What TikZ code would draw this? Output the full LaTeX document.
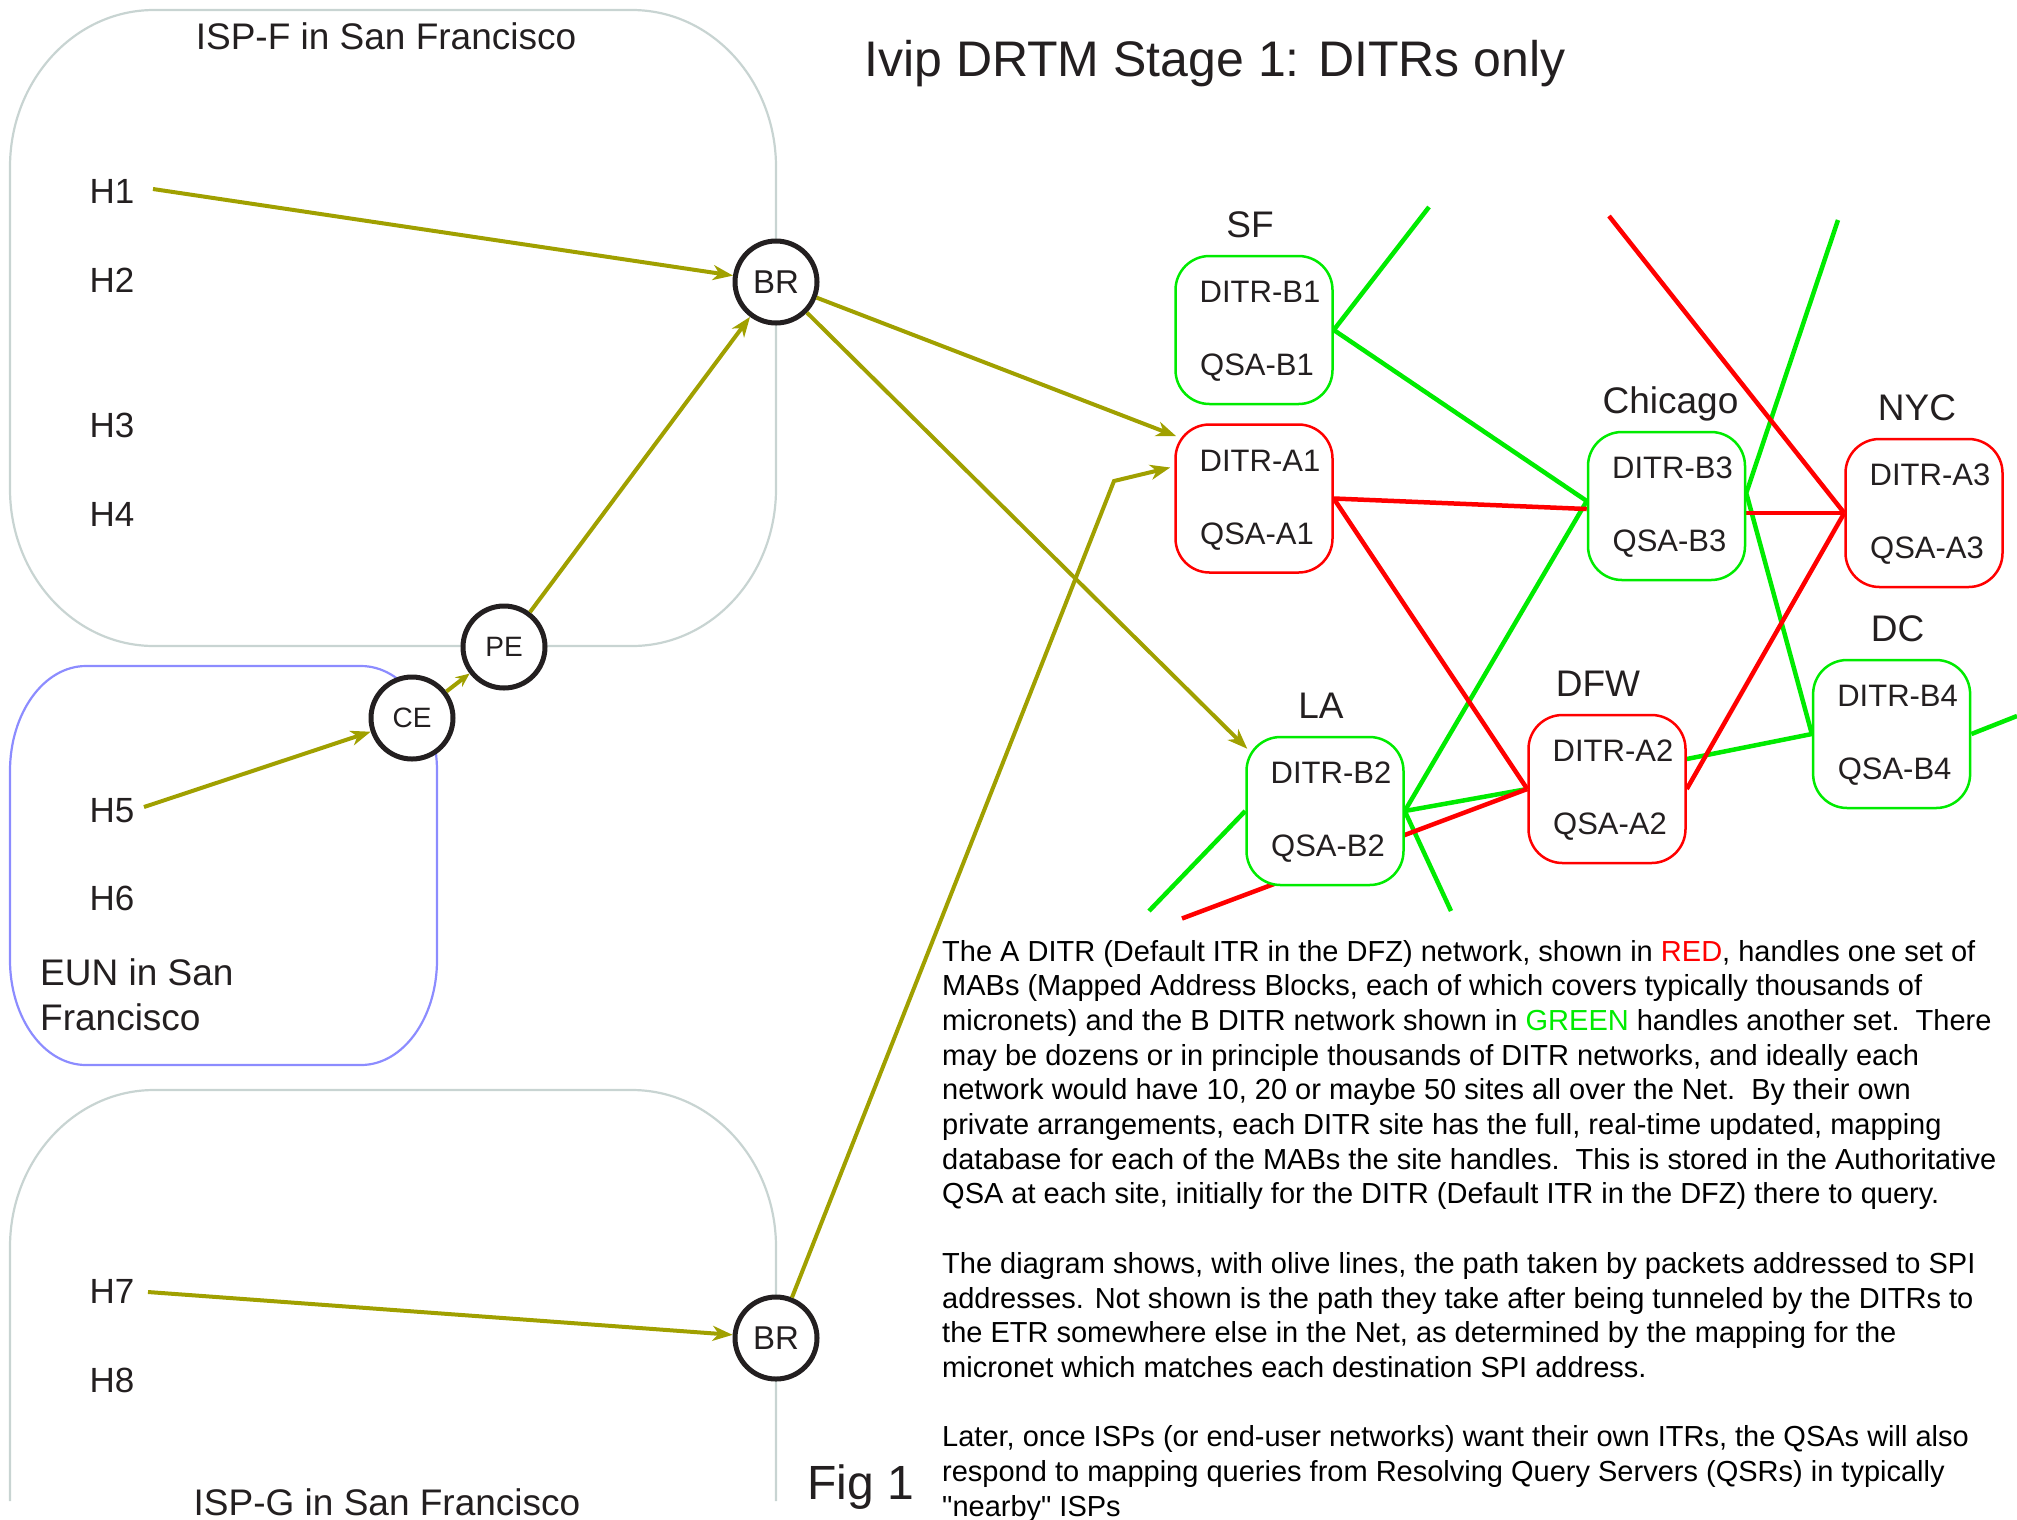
\documentclass[tikz,border=0pt]{standalone}
\usepackage{fontspec}
\setmainfont{Liberation Sans}
\newfontfamily\helv{Liberation Sans}
\usetikzlibrary{calc,arrows.meta,backgrounds}
\definecolor{olivec}{RGB}{160,160,0}
\definecolor{ispc}{RGB}{200,212,210}
\definecolor{eunc}{RGB}{140,140,255}
\definecolor{gnc}{RGB}{0,235,0}
\definecolor{rdc}{RGB}{255,0,0}
\definecolor{inkc}{RGB}{35,31,32}
\newcommand{\mksite}[7]{%
  \node[#2] (#1) at (#3,#4) {};
  \node[intext] (#1d) at ($(#1)+(6,-38)$) {DITR-#6};
  \node[intext] (#1q) at ($(#1)+(3,38)$) {QSA-#6};
  \node[lbl] (#1l) at ($(#1.north)+(#7,-17)$) {#5};
}
\begin{document}
\begin{tikzpicture}[x=1pt,y=-1pt,
  lbl/.style={font=\fontsize{37}{44}\selectfont, anchor=base, inner sep=0pt, text=inkc},
  hlab/.style={font=\fontsize{35}{42}\selectfont, anchor=base, inner sep=12pt, text=inkc},
  router/.style={circle, draw=inkc, line width=5pt, fill=white, minimum size=82pt, inner sep=0pt, text=inkc},
  arr/.style={draw=olivec, line width=4pt, -{Stealth[length=20pt,width=15pt,inset=6pt]}},
  site/.style={rounded corners=34pt, minimum width=157pt, minimum height=148pt, line width=2.5pt, fill=white},
  gsite/.style={site, draw=gnc},
  rsite/.style={site, draw=rdc},
  intext/.style={font=\fontsize{31}{37}\selectfont, inner sep=0pt, text=inkc},
  gline/.style={draw=gnc, line width=4.5pt},
  rline/.style={draw=rdc, line width=4.5pt},
  isp/.style={draw=ispc, line width=2.2pt},
  eun/.style={draw=eunc, line width=2.2pt},
  para/.style={font=\fontsize{29}{34.7}\selectfont, align=left, anchor=base west, inner sep=0pt, text=black},
]
\useasboundingbox (0,0) rectangle (2017,1519);

% containers
\draw[isp] (10,167) .. controls (10,80.3) and (74.5,10) .. (154,10) -- (632,10)
  .. controls (711.5,10) and (776,80.3) .. (776,167) -- (776,489)
  .. controls (776,575.7) and (711.5,646) .. (632,646) -- (154,646)
  .. controls (74.5,646) and (10,575.7) .. (10,489) -- cycle;
\draw[eun] (10,771) .. controls (10,713) and (44,666) .. (86,666) -- (361,666)
  .. controls (403,666) and (437,713) .. (437,771) -- (437,960)
  .. controls (437,1018) and (403,1065) .. (361,1065) -- (86,1065)
  .. controls (44,1065) and (10,1018) .. (10,960) -- cycle;
\draw[isp] (10,1501) -- (10,1247) .. controls (10,1160.3) and (74.5,1090) .. (154,1090)
  -- (632,1090) .. controls (711.5,1090) and (776,1160.3) .. (776,1247) -- (776,1501);

% labels
\node[lbl] (ispf) at (386,49) {ISP-F in San Francisco};
\node[lbl] (ispg) at (387,1515) {ISP-G in San Francisco};
\node[lbl, font=\fontsize{50}{60}\selectfont] (title) at (1215,76) {Ivip DRTM Stage 1: DITRs only};
\node[lbl, anchor=base west, font=\fontsize{48}{58}\selectfont] (fig) at (807,1499) {Fig 1};
\node[lbl, anchor=base west, align=left, font=\fontsize{37}{45}\selectfont] (eunl) at (40,1030) {EUN in San\\Francisco};

% hosts
\node[hlab] (H1) at (112,203) {H1};
\node[hlab] (H2) at (112,292) {H2};
\node[hlab] (H3) at (112,437) {H3};
\node[hlab] (H4) at (112,526) {H4};
\node[hlab] (H5) at (112,822) {H5};
\node[hlab] (H6) at (112,910) {H6};
\node[hlab] (H7) at (112,1303) {H7};
\node[hlab] (H8) at (112,1392) {H8};

% routers
\node[router, font=\fontsize{33}{40}\selectfont] (BR1) at (776,282) {BR};
\node[router, font=\fontsize{28}{34}\selectfont] (PE) at (504,647) {PE};
\node[router, font=\fontsize{28}{34}\selectfont] (CE) at (412,718) {CE};
\node[router, font=\fontsize{33}{40}\selectfont] (BR2) at (776,1338) {BR};

% DITR sites
\mksite{B1}{gsite}{1254}{330}{SF}{B1}{-4}
\mksite{A1}{rsite}{1254}{498.5}{}{A1}{0}
\mksite{B3}{gsite}{1666.5}{506}{Chicago}{B3}{4}
\mksite{A3}{rsite}{1924}{513}{NYC}{A3}{-7}
\mksite{B4}{gsite}{1891.6}{734}{DC}{B4}{6}
\mksite{A2}{rsite}{1607}{789}{DFW}{A2}{-9}
\mksite{B2}{gsite}{1325}{811}{LA}{B2}{-4}

% network links
\begin{scope}[on background layer]
  \coordinate (g1end) at (1429,207);
  \coordinate (g5end) at (1451,911);
  \coordinate (g6end) at (1149,911);
  \coordinate (g7end) at (1838,220);
  \coordinate (g9end) at (2017,716);
  \coordinate (r3end) at (1609,216);
  \coordinate (r6end) at (1182,918.5);
  \draw[gline] (B1.east) -- (g1end);
  \draw[gline] (B1.east) -- ($(B3.west)+(0,-5)$);
  \draw[gline] ($(B3.west)+(0,-5)$) -- (B2.east);
  \draw[gline] (B2.east) -- (A2.west);
  \draw[gline] (B2.east) -- (g5end);
  \draw[gline] (B2.west) -- (g6end);
  \draw[gline] (g7end) -- ($(B3.east)+(0,-13)$) -- (B4.west);
  \draw[gline] ($(A2.east)+(0,-30)$) -- (B4.west);
  \draw[gline] (B4.east) -- (g9end);
  \draw[rline] (A1.east) -- ($(B3.west)+(0,3)$);
  \draw[rline] ($(B3.east)+(0,7)$) -- (A3.west);
  \draw[rline] (A3.west) -- (r3end);
  \draw[rline] (A1.east) -- (A2.west);
  \draw[rline] (A2.east) -- (A3.west);
  \draw[rline] (A2.west) -- (r6end);
\end{scope}

% packet paths
\draw[arr] ($(H1.base)+(41,-14)$) -- (BR1);
\draw[arr] (PE) -- (BR1);
\draw[arr] ($(H5.base)+(32,-15)$) -- (CE);
\draw[arr, -{Stealth[length=14pt,width=12pt,inset=5pt]}] (CE) -- (PE);
\draw[arr] ($(H7.base)+(36,-11)$) -- (BR2);
\coordinate (a1top) at ($(A1.north west)+(2,13)$);
\coordinate (latop) at ($(B2.north west)+(2,13)$);
\draw[arr] (BR1) -- (a1top);
\draw[arr] (BR1) -- (latop);
\coordinate (kink) at (1114,481);
\coordinate (a1side) at ($(A1.west)+(-4,-31)$);
\draw[arr] (BR2) -- (kink) -- (a1side);

% explanatory text (base anchor = last line)
\node[para] (expl) at (942,1516.2) {The A DITR (Default ITR in the DFZ) network, shown in {\color{rdc}RED}, handles one set of\\
MABs (Mapped Address Blocks, each of which covers typically thousands of\\
micronets) and the B DITR network shown in {\color{gnc}GREEN} handles another set.\ \ There\\
may be dozens or in principle thousands of DITR networks, and ideally each\\
network would have 10, 20 or maybe 50 sites all over the Net.\ \ By their own\\
private arrangements, each DITR site has the full, real-time updated, mapping\\
database for each of the MABs the site handles.\ \ This is stored in the Authoritative\\
QSA at each site, initially for the DITR (Default ITR in the DFZ) there to query.\\[34.7pt]
The diagram shows, with olive lines, the path taken by packets addressed to SPI\\
addresses. Not shown is the path they take after being tunneled by the DITRs to\\
the ETR somewhere else in the Net, as determined by the mapping for the\\
micronet which matches each destination SPI address.\\[34.7pt]
Later, once ISPs (or end-user networks) want their own ITRs, the QSAs will also\\
respond to mapping queries from Resolving Query Servers (QSRs) in typically\\
{\helv"}nearby{\helv"} ISPs};
\end{tikzpicture}
\end{document}
